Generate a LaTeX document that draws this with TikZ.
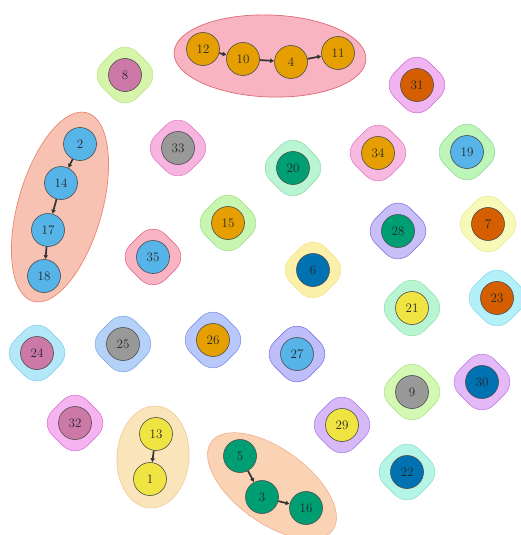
\documentclass[tikz,border=0pt]{standalone}
\usetikzlibrary{shapes.geometric,arrows.meta,backgrounds}
\definecolor{cOr}{HTML}{E69F00}
\definecolor{cSky}{HTML}{56B4E9}
\definecolor{cGrn}{HTML}{009E73}
\definecolor{cYel}{HTML}{F0E442}
\definecolor{cBlu}{HTML}{0072B2}
\definecolor{cVer}{HTML}{D55E00}
\definecolor{cPur}{HTML}{CC79A7}
\definecolor{cGry}{HTML}{999999}
\begin{document}
\begin{tikzpicture}[x=1pt,y=-1pt,
  vtx/.style={circle,minimum size=33pt,inner sep=0pt,draw=black!70,line width=0.6pt,font=\fontsize{13}{13}\selectfont,text=black!85},
  halo/.style={diamond,minimum width=70pt,minimum height=70pt,inner sep=0pt,rounded corners=17pt,line width=0.6pt},
  grp/.style={line width=0.7pt},
  lnk/.style={line width=1.7pt,draw=black!80,-{Latex[length=4pt,width=5pt]}}]
\useasboundingbox (0,0) rectangle (520,535);
% vertices
\node[vtx,fill=cOr] (v12) at (203,49) {12};
\node[vtx,fill=cOr] (v10) at (243,59) {10};
\node[vtx,fill=cOr] (v4) at (291,62) {4};
\node[vtx,fill=cOr] (v11) at (338,53) {11};
\node[vtx,fill=cPur] (v8) at (125,75) {8};
\node[vtx,fill=cVer] (v31) at (417,85) {31};
\node[vtx,fill=cSky] (v2) at (80,144) {2};
\node[vtx,fill=cSky] (v14) at (61,183) {14};
\node[vtx,fill=cSky] (v17) at (48,230) {17};
\node[vtx,fill=cSky] (v18) at (44,276) {18};
\node[vtx,fill=cGry] (v33) at (178,148) {33};
\node[vtx,fill=cGrn] (v20) at (293,168) {20};
\node[vtx,fill=cOr] (v34) at (378,153) {34};
\node[vtx,fill=cSky] (v19) at (467,152) {19};
\node[vtx,fill=cOr] (v15) at (228,223) {15};
\node[vtx,fill=cGrn] (v28) at (398,231) {28};
\node[vtx,fill=cVer] (v7) at (488,224) {7};
\node[vtx,fill=cSky] (v35) at (153,257) {35};
\node[vtx,fill=cBlu] (v6) at (313,270) {6};
\node[vtx,fill=cYel] (v21) at (412,308) {21};
\node[vtx,fill=cVer] (v23) at (497,298) {23};
\node[vtx,fill=cPur] (v24) at (37,353) {24};
\node[vtx,fill=cGry] (v25) at (123,344) {25};
\node[vtx,fill=cOr] (v26) at (213,340) {26};
\node[vtx,fill=cSky] (v27) at (297,354) {27};
\node[vtx,fill=cGry] (v9) at (412,392) {9};
\node[vtx,fill=cBlu] (v30) at (482,382) {30};
\node[vtx,fill=cPur] (v32) at (75,423) {32};
\node[vtx,fill=cYel] (v29) at (342,425) {29};
\node[vtx,fill=cYel] (v13) at (156,434) {13};
\node[vtx,fill=cYel] (v1) at (150,479) {1};
\node[vtx,fill=cGrn] (v5) at (240,456) {5};
\node[vtx,fill=cGrn] (v3) at (262,497) {3};
\node[vtx,fill=cGrn] (v16) at (306,508) {16};
\node[vtx,fill=cBlu] (v22) at (407,472) {22};
% edges
\draw[lnk] (v12) -- (v10);
\draw[lnk] (v10) -- (v4);
\draw[lnk] (v4) -- (v11);
\draw[lnk] (v2) -- (v14);
\draw[lnk] (v14) -- (v17);
\draw[lnk] (v17) -- (v18);
\draw[lnk] (v13) -- (v1);
\draw[lnk] (v5) -- (v3);
\draw[lnk] (v3) -- (v16);
% group marks
\begin{scope}[on background layer]
\draw[grp,fill={rgb,255:red,248;green,180;blue,192},draw={rgb,255:red,222;green,105;blue,118},rotate around={-2:(270,56)}] (270,56) ellipse [x radius=96, y radius=41];
\draw[grp,fill={rgb,255:red,248;green,194;blue,178},draw={rgb,255:red,232;green,135;blue,115},rotate around={74:(60,207)}] (60,207) ellipse [x radius=98, y radius=42];
\draw[grp,fill={rgb,255:red,250;green,228;blue,186},draw={rgb,255:red,242;green,205;blue,155},rotate around={-4:(153,457)}] (153,457) ellipse [x radius=36, y radius=51];
\draw[grp,fill={rgb,255:red,250;green,210;blue,180},draw={rgb,255:red,240;green,180;blue,148},rotate around={-36:(272,486)}] (272,486) ellipse [x radius=75, y radius=37];
\node[halo,fill={rgb,255:red,215;green,245;blue,170},draw={rgb,255:red,190;green,230;blue,140}] at (v8) {};
\node[halo,fill={rgb,255:red,240;green,180;blue,240},draw={rgb,255:red,210;green,120;blue,210}] at (v31) {};
\node[halo,fill={rgb,255:red,248;green,180;blue,225},draw={rgb,255:red,230;green,130;blue,200}] at (v33) {};
\node[halo,fill={rgb,255:red,185;green,245;blue,210},draw={rgb,255:red,150;green,220;blue,180}] at (v20) {};
\node[halo,fill={rgb,255:red,248;green,185;blue,225},draw={rgb,255:red,225;green,130;blue,195}] at (v34) {};
\node[halo,fill={rgb,255:red,190;green,245;blue,185},draw={rgb,255:red,150;green,220;blue,150}] at (v19) {};
\node[halo,fill={rgb,255:red,200;green,245;blue,175},draw={rgb,255:red,165;green,225;blue,140}] at (v15) {};
\node[halo,fill={rgb,255:red,200;green,190;blue,248},draw={rgb,255:red,140;green,120;blue,220}] at (v28) {};
\node[halo,fill={rgb,255:red,248;green,248;blue,185},draw={rgb,255:red,235;green,235;blue,150}] at (v7) {};
\node[halo,fill={rgb,255:red,248;green,180;blue,195},draw={rgb,255:red,225;green,110;blue,140}] at (v35) {};
\node[halo,fill={rgb,255:red,250;green,240;blue,170},draw={rgb,255:red,245;green,230;blue,140}] at (v6) {};
\node[halo,fill={rgb,255:red,185;green,245;blue,210},draw={rgb,255:red,150;green,225;blue,180}] at (v21) {};
\node[halo,fill={rgb,255:red,180;green,240;blue,248},draw={rgb,255:red,140;green,220;blue,235}] at (v23) {};
\node[halo,fill={rgb,255:red,180;green,232;blue,248},draw={rgb,255:red,130;green,210;blue,235}] at (v24) {};
\node[halo,fill={rgb,255:red,180;green,210;blue,248},draw={rgb,255:red,130;green,170;blue,230}] at (v25) {};
\node[halo,fill={rgb,255:red,185;green,200;blue,250},draw={rgb,255:red,130;green,150;blue,230}] at (v26) {};
\node[halo,fill={rgb,255:red,190;green,190;blue,250},draw={rgb,255:red,130;green,120;blue,225}] at (v27) {};
\node[halo,fill={rgb,255:red,210;green,248;blue,180},draw={rgb,255:red,175;green,230;blue,140}] at (v9) {};
\node[halo,fill={rgb,255:red,228;green,185;blue,248},draw={rgb,255:red,190;green,130;blue,230}] at (v30) {};
\node[halo,fill={rgb,255:red,245;green,180;blue,240},draw={rgb,255:red,220;green,120;blue,215}] at (v32) {};
\node[halo,fill={rgb,255:red,215;green,185;blue,248},draw={rgb,255:red,170;green,130;blue,230}] at (v29) {};
\node[halo,fill={rgb,255:red,180;green,245;blue,230},draw={rgb,255:red,140;green,225;blue,205}] at (v22) {};
\end{scope}
\end{tikzpicture}
\end{document}
